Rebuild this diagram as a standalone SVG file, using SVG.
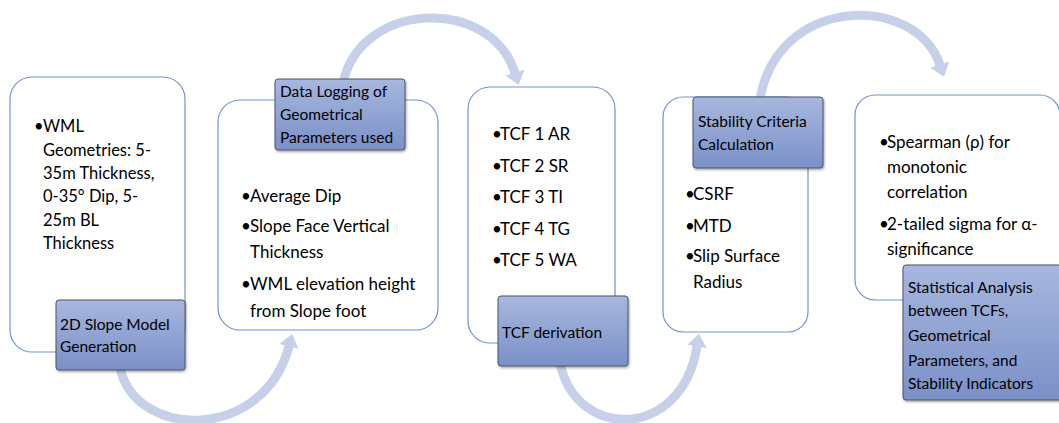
<svg xmlns="http://www.w3.org/2000/svg" width="1059" height="423" viewBox="0 0 1059 423">
  <defs>
    <linearGradient id="lblFill" x1="0" y1="0" x2="0" y2="1">
      <stop offset="0" stop-color="#a7b7de"/>
      <stop offset="1" stop-color="#7a90c7"/>
    </linearGradient>
    <filter id="shadow" x="-10%" y="-10%" width="125%" height="130%">
      <feDropShadow dx="1" dy="1.5" stdDeviation="1" flood-color="#000" flood-opacity="0.35"/>
    </filter>
    <marker id="head" markerUnits="userSpaceOnUse" viewBox="0 0 13 20" markerWidth="13" markerHeight="20" refX="0.5" refY="10" orient="auto">
      <path d="M0,0 L13,10 L0,20 Z" fill="#c7d0e9"/>
    </marker>
    <style>
      .box { fill: #ffffff; stroke: #6f94cf; stroke-width: 1.2; }
      .lbl { fill: url(#lblFill); stroke: #4d5566; stroke-width: 1; filter: url(#shadow); }
      .arc { fill: none; stroke: #c7d0e9; stroke-width: 9; marker-end: url(#head); }
      text { font-family: Lato, "Liberation Sans", "DejaVu Sans", sans-serif; fill: #000000; }
      .b1 { font-size: 16.5px; }
      .b2 { font-size: 17px; }
      .b3 { font-size: 17px; }
      .b4 { font-size: 17px; }
      .b5 { font-size: 17px; }
      .lt { font-size: 15.5px; }
    </style>
  </defs>

  <!-- curved flow arrows, drawn underneath the steps -->
  <g id="connectors">
    <path class="arc" d="M120 368 C136 440, 264 442, 289 346"/>
    <path class="arc" d="M343 84 C358 2, 490 -6, 515 73"/>
    <path class="arc" d="M560 362 C574 440, 682 442, 697 346"/>
    <path class="arc" d="M760 100 C776 -4, 915 -8, 940 65"/>
  </g>

  <!-- step 1 -->
  <g id="step1">
    <rect class="box" x="10" y="77" width="175" height="275" rx="22"/>
    <g class="b1">
      <text><tspan x="34" y="132">•</tspan><tspan x="43" y="132">WML</tspan></text>
      <text x="43" y="155.5">Geometries: 5-</text>
      <text x="43" y="179">35m Thickness,</text>
      <text x="43" y="202">0-35° Dip, 5-</text>
      <text x="43" y="225.5">25m BL</text>
      <text x="43" y="249">Thickness</text>
    </g>
    <rect class="lbl" x="56" y="300" width="129" height="70" rx="3"/>
    <text class="lt" x="60" y="330">2D Slope Model</text>
    <text class="lt" x="60" y="352">Generation</text>
  </g>

  <!-- step 2 -->
  <g id="step2">
    <rect class="box" x="218" y="100" width="220" height="230" rx="22"/>
    <g class="b2">
      <text><tspan x="241" y="202">•</tspan><tspan x="250" y="202">Average Dip</tspan></text>
      <text><tspan x="241" y="232">•</tspan><tspan x="250" y="232">Slope Face Vertical</tspan></text>
      <text x="250" y="258">Thickness</text>
      <text><tspan x="241" y="290">•</tspan><tspan x="250" y="290">WML elevation height</tspan></text>
      <text x="250" y="317">from Slope foot</text>
    </g>
    <rect class="lbl" x="275" y="79" width="130" height="71" rx="3"/>
    <text class="lt" x="280" y="97">Data Logging of</text>
    <text class="lt" x="280" y="120">Geometrical</text>
    <text class="lt" x="280" y="143">Parameters used</text>
  </g>

  <!-- step 3 -->
  <g id="step3">
    <rect class="box" x="468" y="87" width="147" height="256" rx="22"/>
    <g class="b3">
      <text><tspan x="492" y="140">•</tspan><tspan x="500" y="140">TCF 1 AR</tspan></text>
      <text><tspan x="492" y="172">•</tspan><tspan x="500" y="172">TCF 2 SR</tspan></text>
      <text><tspan x="492" y="203">•</tspan><tspan x="500" y="203">TCF 3 TI</tspan></text>
      <text><tspan x="492" y="235">•</tspan><tspan x="500" y="235">TCF 4 TG</tspan></text>
      <text><tspan x="492" y="266">•</tspan><tspan x="500" y="266">TCF 5 WA</tspan></text>
    </g>
    <rect class="lbl" x="498" y="296" width="130" height="70" rx="3"/>
    <text class="lt" x="502" y="338">TCF derivation</text>
  </g>

  <!-- step 4 -->
  <g id="step4">
    <rect class="box" x="663" y="97" width="145" height="235" rx="20"/>
    <g class="b4">
      <text><tspan x="685" y="200">•</tspan><tspan x="693" y="200">CSRF</tspan></text>
      <text><tspan x="685" y="232">•</tspan><tspan x="693" y="232">MTD</tspan></text>
      <text><tspan x="685" y="262">•</tspan><tspan x="693" y="262">Slip Surface</tspan></text>
      <text x="693" y="288">Radius</text>
    </g>
    <rect class="lbl" x="693" y="97" width="130" height="71" rx="3"/>
    <text class="lt" x="698" y="127">Stability Criteria</text>
    <text class="lt" x="698" y="150">Calculation</text>
  </g>

  <!-- step 5 -->
  <g id="step5">
    <rect class="box" x="855" y="95" width="205" height="205" rx="20"/>
    <g class="b5">
      <text><tspan x="879" y="148">•</tspan><tspan x="887" y="148">Spearman (ρ) for</tspan></text>
      <text x="887" y="173">monotonic</text>
      <text x="887" y="198">correlation</text>
      <text><tspan x="879" y="230">•</tspan><tspan x="887" y="230">2-tailed sigma for α-</tspan></text>
      <text x="887" y="255">significance</text>
    </g>
    <rect class="lbl" x="903" y="265" width="162" height="135" rx="3"/>
    <text class="lt" x="908" y="293">Statistical Analysis</text>
    <text class="lt" x="908" y="316">between TCFs,</text>
    <text class="lt" x="908" y="341">Geometrical</text>
    <text class="lt" x="908" y="366">Parameters, and</text>
    <text class="lt" x="908" y="389">Stability Indicators</text>
  </g>
</svg>
